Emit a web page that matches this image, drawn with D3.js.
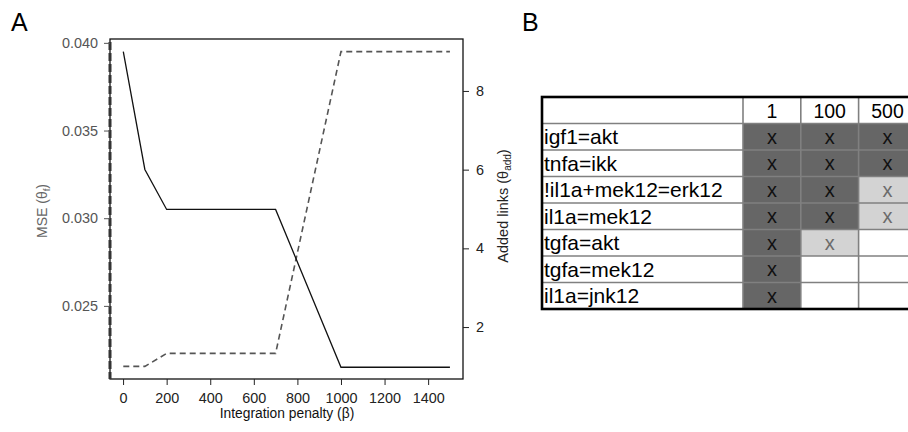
<!DOCTYPE html>
<html>
<head>
<meta charset="utf-8">
<script src="https://cdn.jsdelivr.net/npm/d3@7"></script>
<style>
  body { margin: 0; background: #fff; }
  svg { font-family: "Liberation Sans", Arial, sans-serif; }
</style>
</head>
<body>
<svg id="chart" width="908" height="432"></svg>
<script>
// panel A data
const penalty = [1, 100, 200, 700, 1000, 1500];
const mse = [0.0395, 0.03278, 0.0305, 0.0305, 0.0215, 0.0215];
const addedLinks = [1, 1, 1.33, 1.33, 9, 9];
const xTicks = [0, 200, 400, 600, 800, 1000, 1200, 1400];
const mseTicks = [0.025, 0.030, 0.035, 0.040];
const linkTicks = [2, 4, 6, 8];

// panel B data
const links = ['igf1=akt', 'tnfa=ikk', '!il1a+mek12=erk12', 'il1a=mek12', 'tgfa=akt', 'tgfa=mek12', 'il1a=jnk12'];
const penalties = ['1', '100', '500'];
// 2 = strong, 1 = weak, 0 = absent
const linkPresence = [
  [2, 2, 2],
  [2, 2, 2],
  [2, 2, 1],
  [2, 2, 1],
  [2, 1, 0],
  [2, 0, 0],
  [2, 0, 0]
];

const svg = d3.select('#chart');

const pLeft = 110, pRight = 463, pTop = 39, pBottom = 379;
const tickFont = 14.4;

const x = d3.scaleLinear().domain([-60, 1560]).range([pLeft, pRight]);
const yMse = d3.scaleLinear().domain([0.02083, 0.04022]).range([pBottom, pTop]);
const yLinks = d3.scaleLinear().domain([0.68, 9.32]).range([pBottom, pTop]);

svg.append('text').attr('x', 11).attr('y', 31)
  .attr('font-size', 25).text('A');
svg.append('text').attr('x', 522).attr('y', 31)
  .attr('font-size', 25).text('B');

// box
svg.append('rect')
  .attr('x', pLeft).attr('y', pTop)
  .attr('width', pRight - pLeft).attr('height', pBottom - pTop)
  .attr('fill', 'none').attr('stroke', '#111').attr('stroke-width', 1.3);

// dashed vertical at left edge
svg.append('line')
  .attr('x1', pLeft).attr('x2', pLeft)
  .attr('y1', pTop + 3).attr('y2', pBottom)
  .attr('stroke', '#333').attr('stroke-width', 3)
  .attr('stroke-dasharray', '8,3');

// bottom axis
const xAxis = svg.append('g')
  .attr('transform', `translate(0,${pBottom})`)
  .call(d3.axisBottom(x).tickValues(xTicks).tickFormat(d3.format('d'))
    .tickSize(6).tickPadding(8).tickSizeOuter(0));
xAxis.select('.domain').remove();
xAxis.selectAll('line').attr('stroke', '#222');
xAxis.selectAll('text').attr('font-size', tickFont).attr('fill', '#222')
  .attr('font-family', '"Liberation Sans", Arial, sans-serif');

// left axis
const yAxisL = svg.append('g')
  .attr('transform', `translate(${pLeft},0)`)
  .call(d3.axisLeft(yMse).tickValues(mseTicks).tickFormat(d3.format('.3f')).tickSize(6).tickPadding(6));
yAxisL.select('.domain').remove();
yAxisL.selectAll('line').attr('stroke', '#555');
yAxisL.selectAll('text').attr('font-size', tickFont).attr('fill', '#555')
  .attr('font-family', '"Liberation Sans", Arial, sans-serif');

// right axis
const yAxisR = svg.append('g')
  .attr('transform', `translate(${pRight},0)`)
  .call(d3.axisRight(yLinks).tickValues(linkTicks).tickSize(6).tickPadding(7));
yAxisR.select('.domain').remove();
yAxisR.selectAll('line').attr('stroke', '#222');
yAxisR.selectAll('text').attr('font-size', tickFont).attr('fill', '#222')
  .attr('font-family', '"Liberation Sans", Arial, sans-serif');

// axis titles
svg.append('text')
  .attr('x', 287).attr('y', 418)
  .attr('text-anchor', 'middle').attr('font-size', 13.8).attr('fill', '#111')
  .text('Integration penalty (β)');

const mseLabel = svg.append('text')
  .attr('transform', 'translate(47,211) rotate(-90)')
  .attr('text-anchor', 'middle').attr('font-size', 14).attr('fill', '#666');
mseLabel.append('tspan').text('MSE (θ');
mseLabel.append('tspan').attr('font-size', 9.5).attr('dy', 3).text('f');
mseLabel.append('tspan').attr('dy', -3).text(')');

const linkLabel = svg.append('text')
  .attr('transform', 'translate(508,206) rotate(-90)')
  .attr('text-anchor', 'middle').attr('font-size', 14.5).attr('fill', '#222');
linkLabel.append('tspan').text('Added links (θ');
linkLabel.append('tspan').attr('font-size', 10).attr('dy', 3).text('add');
linkLabel.append('tspan').attr('dy', -3).text(')');

// lines
const mseLine = d3.line()
  .x((d, i) => x(penalty[i]))
  .y(d => yMse(d));
const linkLine = d3.line()
  .x((d, i) => x(penalty[i]))
  .y(d => yLinks(d));

svg.append('path')
  .datum(addedLinks)
  .attr('fill', 'none').attr('stroke', '#555').attr('stroke-width', 1.6)
  .attr('stroke-dasharray', '6,4')
  .attr('d', linkLine);

svg.append('path')
  .datum(mse)
  .attr('fill', 'none').attr('stroke', '#111').attr('stroke-width', 1.3)
  .attr('d', mseLine);

// ---- panel B table ----
const tX = 542, tY = 97, rowH = 26.5, labelW = 201, colW = 57.8;
const nRows = links.length + 1;
const cellFill = ['#ffffff', '#d3d3d3', '#666666'];
const xColor = ['#000', '#6b6b6b', '#111'];

const table = svg.append('g');

const cells = [];
linkPresence.forEach((row, r) => {
  row.forEach((v, c) => cells.push({ r, c, v }));
});

table.selectAll('rect.cell').data(cells).enter().append('rect')
  .attr('class', 'cell')
  .attr('x', d => tX + labelW + d.c * colW)
  .attr('y', d => tY + (d.r + 1) * rowH)
  .attr('width', colW).attr('height', rowH)
  .attr('fill', d => cellFill[d.v]);

// grid lines
for (let r = 1; r < nRows; r++) {
  table.append('line')
    .attr('x1', tX).attr('x2', 908)
    .attr('y1', tY + r * rowH).attr('y2', tY + r * rowH)
    .attr('stroke', '#808080').attr('stroke-width', 1.6);
}
for (let c = 0; c < penalties.length; c++) {
  const cx = tX + labelW + c * colW;
  table.append('line')
    .attr('x1', cx).attr('x2', cx)
    .attr('y1', tY).attr('y2', tY + nRows * rowH)
    .attr('stroke', '#808080').attr('stroke-width', 1.6);
}

// outer border
table.append('rect')
  .attr('x', tX).attr('y', tY)
  .attr('width', labelW + penalties.length * colW).attr('height', nRows * rowH)
  .attr('fill', 'none').attr('stroke', '#000').attr('stroke-width', 2.6);

// header
table.selectAll('text.head').data(penalties).enter().append('text')
  .attr('class', 'head')
  .attr('x', (d, i) => tX + labelW + i * colW + colW / 2)
  .attr('y', tY + 21)
  .attr('text-anchor', 'middle').attr('font-size', 19.5).attr('fill', '#000')
  .text(d => d);

// row labels
table.selectAll('text.lab').data(links).enter().append('text')
  .attr('class', 'lab')
  .attr('x', tX + 2)
  .attr('y', (d, i) => tY + (i + 1) * rowH + 20.5)
  .attr('font-size', 21).attr('fill', '#000')
  .text(d => d);

// marks
table.selectAll('text.mark').data(cells.filter(d => d.v > 0)).enter().append('text')
  .attr('class', 'mark')
  .attr('x', d => tX + labelW + d.c * colW + colW / 2)
  .attr('y', d => tY + (d.r + 1) * rowH + 20)
  .attr('text-anchor', 'middle').attr('font-size', 20)
  .attr('fill', d => xColor[d.v])
  .text('x');
</script>
</body>
</html>
